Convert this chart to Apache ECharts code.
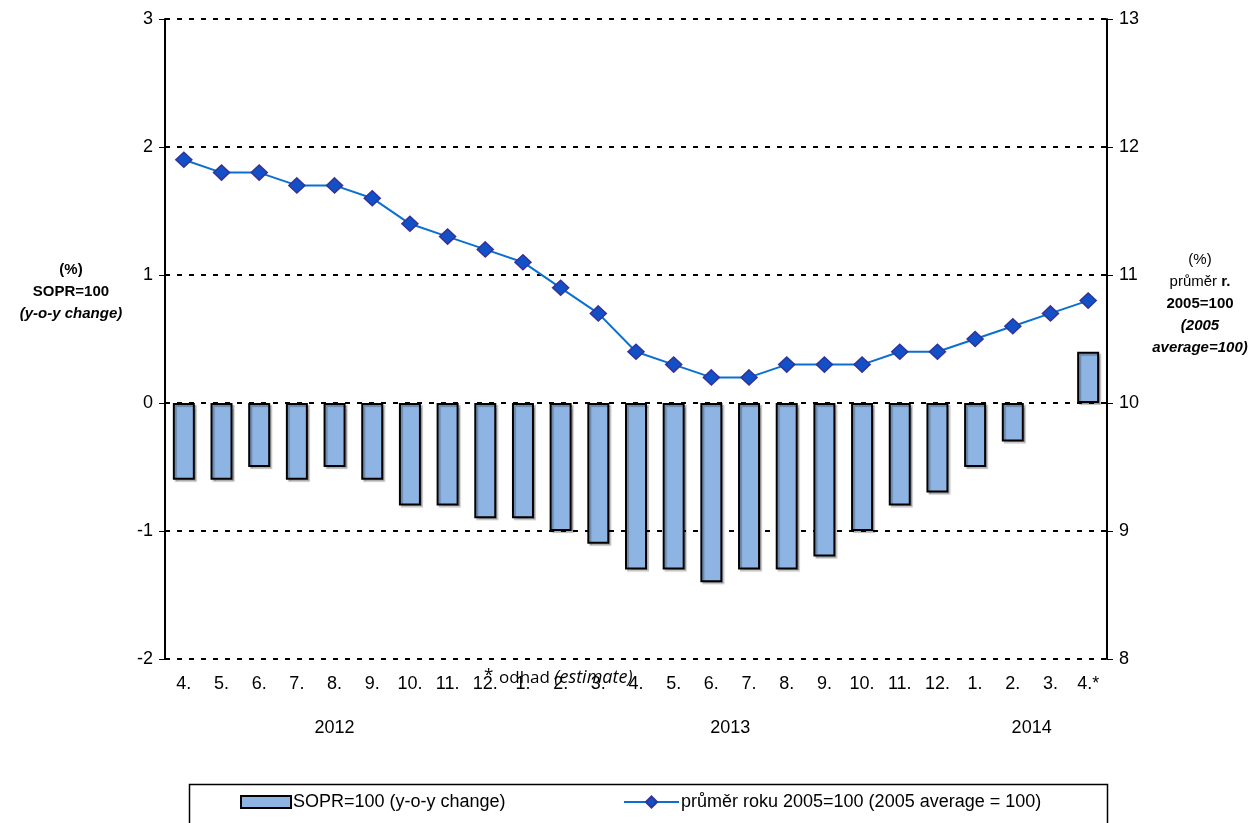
<!DOCTYPE html>
<html>
<head>
<meta charset="utf-8">
<script src="https://cdn.jsdelivr.net/npm/echarts@6/dist/echarts.min.js"></script>
<style>html,body{margin:0;padding:0;background:#fff}#c{width:1257px;height:823px}</style>
</head>
<body>
<div id="c"></div>
<script>
const months = ['4.','5.','6.','7.','8.','9.','10.','11.','12.','1.','2.','3.','4.','5.','6.','7.','8.','9.','10.','11.','12.','1.','2.','3.','4.*'];
const yearLabels = {4.5: '2012', 15: '2013', 23: '2014'};
const soprChange = [-0.6,-0.6,-0.5,-0.6,-0.5,-0.6,-0.8,-0.8,-0.9,-0.9,-1.0,-1.1,-1.3,-1.3,-1.4,-1.3,-1.3,-1.2,-1.0,-0.8,-0.7,-0.5,-0.3,null,0.4];
const avg2005 = [11.9,11.8,11.8,11.7,11.7,11.6,11.4,11.3,11.2,11.1,10.9,10.7,10.4,10.3,10.2,10.2,10.3,10.3,10.3,10.4,10.4,10.5,10.6,10.7,10.8];
const seriesNames = ['SOPR=100 (y-o-y change)', 'průměr roku 2005=100 (2005 average = 100)'];

const F = '"Liberation Sans", Arial, sans-serif';
const OS = '"Open Sans", sans-serif';
const legendText = {fontFamily: F, fontSize: 18, color: '#000', padding: [0,0,0,-3]};
const chart = echarts.init(document.getElementById('c'));
chart.setOption({
  animation: false,
  textStyle: {fontFamily: F},
  grid: {left: 165, right: 150, top: 19, bottom: 164},
  legend: [
    {left: 240, top: 793, padding: 0, itemWidth: 50, itemHeight: 12, textStyle: legendText,
     data: [{name: seriesNames[0], icon: 'rect', itemStyle: {color: '#8DB4E2', borderColor: '#000', borderWidth: 2, shadowBlur: 0, shadowOffsetX: 0, shadowOffsetY: 0}}]},
    {left: 623, top: 793, padding: 0, itemWidth: 55, itemHeight: 14, textStyle: legendText,
     data: [{name: seriesNames[1]}]}
  ],
  xAxis: [
    {type: 'category', data: months, position: 'bottom',
     axisLine: {show: false, onZero: false}, axisTick: {show: false},
     axisLabel: {color: '#000', fontSize: 18, margin: 16, fontFamily: F}},
    {type: 'value', min: 0, max: 25, interval: 0.5, position: 'bottom', offset: 52,
     axisLine: {show: false}, axisTick: {show: false}, splitLine: {show: false},
     axisLabel: {color: '#000', fontSize: 18, fontFamily: F, margin: 8, showMinLabel: true, showMaxLabel: true,
       formatter: v => yearLabels[v] || ''}}
  ],
  yAxis: [
    {type: 'value', min: -2, max: 3, interval: 1, position: 'left',
     axisLine: {show: true, lineStyle: {color: '#000', width: 2}},
     axisTick: {show: true, length: 6, lineStyle: {color: '#000', width: 1}},
     axisLabel: {color: '#000', fontSize: 18, margin: 12, fontFamily: F},
     splitLine: {show: true, lineStyle: {color: '#000', width: 2, type: [5, 7]}}},
    {type: 'value', min: 8, max: 13, interval: 1, position: 'right',
     axisLine: {show: true, lineStyle: {color: '#000', width: 2}},
     axisTick: {show: true, length: 6, lineStyle: {color: '#000', width: 1}},
     axisLabel: {color: '#000', fontSize: 18, margin: 12, fontFamily: F},
     splitLine: {show: false}}
  ],
  series: [
    {name: seriesNames[0], type: 'bar', xAxisIndex: 0, yAxisIndex: 0, data: soprChange, barWidth: 22,
     itemStyle: {color: '#8DB4E2', borderColor: '#000', borderWidth: 2,
       shadowColor: 'rgba(0,0,0,0.25)', shadowOffsetX: 2, shadowOffsetY: 2, shadowBlur: 1}},
    {name: seriesNames[1], type: 'line', xAxisIndex: 0, yAxisIndex: 1, data: avg2005,
     symbol: 'diamond', symbolSize: [16, 15],
     lineStyle: {color: '#0A6FD0', width: 2},
     itemStyle: {color: '#1250C8', borderColor: '#33339A', borderWidth: 1.5}}
  ],
  graphic: [
    {type: 'rect', left: 187, top: 782, shape: {width: 918, height: 60},
     style: {fill: 'none', stroke: '#000', lineWidth: 1.5}, silent: true},
    {type: 'text', x: 71, y: 259, style: {
      text: '{b|(%)}\n{b|SOPR=100}\n{bi|(y-o-y change)}', align: 'center',
      rich: {b: {fontFamily: F, fontSize: 15, fontWeight: 'bold', lineHeight: 22, align: 'center'},
             bi: {fontFamily: F, fontSize: 15, fontWeight: 'bold', fontStyle: 'italic', lineHeight: 22, align: 'center'}}}},
    {type: 'text', x: 1200, y: 249, style: {
      text: '{n|(%)}\n{n|průměr }{b|r.}\n{b|2005=100}\n{bi|(2005}\n{bi|average=100)}', align: 'center',
      rich: {n: {fontFamily: F, fontSize: 15, lineHeight: 22},
             b: {fontFamily: F, fontSize: 15, fontWeight: 'bold', lineHeight: 22},
             bi: {fontFamily: F, fontSize: 15, fontWeight: 'bold', fontStyle: 'italic', lineHeight: 22}}}},
    {type: 'text', x: 484, y: 667, style: {text: '*', fontFamily: OS, fontSize: 17, fill: '#000'}},
    {type: 'text', x: 499, y: 669, style: {
      text: '{n|odhad }{i|(estimate)}',
      rich: {n: {fontFamily: OS, fontSize: 17, fill: '#000'},
             i: {fontFamily: OS, fontSize: 18, fontStyle: 'italic', fill: '#000'}}}}
  ]
});
</script>
</body>
</html>
